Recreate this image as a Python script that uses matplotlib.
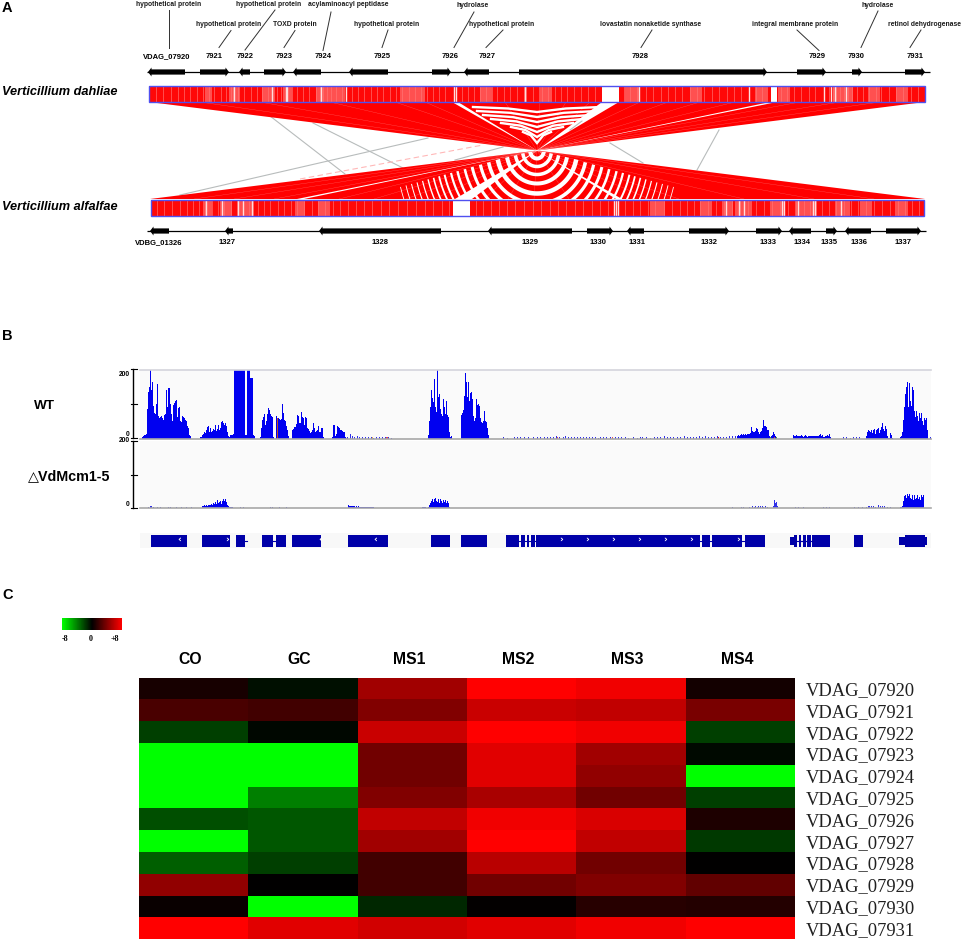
import numpy as np
import matplotlib
matplotlib.use("Agg")
import matplotlib.pyplot as plt
from matplotlib.colors import LinearSegmentedColormap
from matplotlib.patches import Polygon, Rectangle

plt.rcParams['font.family'] = ['Liberation Sans', 'DejaVu Sans']

# ---- panel A: gene maps (positions read in figure pixels)
top_genes = ["VDAG_07920", "7921", "7922", "7923", "7924", "7925", "7926", "7927", "7928", "7929", "7930", "7931"]
top_start = [148, 200, 239, 264, 293, 349, 432, 464, 519, 797, 852, 905]
top_end = [185, 229, 250, 286, 321, 388, 451, 489, 767, 826, 862, 925]
top_dir = [-1, 1, -1, 1, -1, -1, 1, -1, 1, 1, 1, 1]
top_label_x = [167, 214.5, 245, 284, 323, 382, 450, 487.5, 640, 817, 856, 915]

bot_genes = ["VDBG_01326", "1327", "1328", "1329", "1330", "1331", "1332", "1333", "1334", "1335", "1336", "1337"]
bot_start = [150, 225, 319, 488, 587, 627, 689, 756, 789, 826, 845, 886]
bot_end = [169, 233, 441, 572, 613, 644, 729, 782, 811, 837, 871, 921]
bot_dir = [-1, -1, -1, -1, 1, -1, 1, 1, -1, 1, -1, 1]
bot_label_x = [159, 227, 380, 530, 598, 637.5, 709, 768, 802, 829.5, 859, 903]

annot_text = ["hypothetical protein", "hypothetical protein", "hypothetical protein", "TOXD protein",
              "acylaminoacyl peptidase", "hypothetical protein", "hydrolase", "hypothetical protein",
              "lovastatin nonaketide synthase", "integral membrane protein", "hydrolase", "retinol dehydrogenase"]
annot_x = [169, 229, 269, 295, 348, 387, 473, 502, 651, 795.5, 878, 924]
annot_y = [5, 25, 5, 24.5, 5, 24.5, 5.5, 24.5, 24.5, 24.5, 5.5, 24.5]
lead_x0 = [169, 231, 275, 295, 331, 388, 474, 503, 652, 797, 878, 921]
lead_y0 = [10, 30.5, 10, 30.5, 12, 30, 12, 30, 30, 30, 11, 30]
lead_x1 = [169, 219, 245, 284, 323, 382, 454, 486, 641, 819, 861, 910]
lead_y1 = [47.5, 47.5, 50, 47.5, 50.5, 47.5, 47.5, 47.5, 47.5, 50.5, 47.5, 47.5]

# alignment blocks top -> bottom
link_top_l = [149, 458, 619, 777]
link_top_r = [452, 602, 770, 925]
link_bot_l = [925, 616, 455, 297]
link_bot_r = [622, 472, 304, 150]

thin_top = [505, 540, 566, 590, 640, 668, 700, 735, 800, 840, 880, 200, 260, 330, 395, 425]
thin_bot = [569, 534, 508, 484, 434, 406, 374, 339, 274, 234, 194, 874, 814, 744, 679, 649]

top_stripes = [156, 163, 171, 178, 184, 190, 197, 203, 209, 214, 221, 226, 231, 233, 238, 244, 251, 257, 262, 268,
               272, 277, 281, 287, 292, 297, 303, 309, 316, 320, 323, 327, 331, 336, 342, 346, 352, 358, 364, 371,
               377, 383, 390, 396, 402, 409, 415, 421, 427, 433, 439, 445, 462, 468, 474, 480, 486, 492, 497, 504,
               510, 517, 524, 526, 533, 539, 542, 548, 555, 561, 567, 574, 581, 588, 595, 624, 630, 637, 639, 646,
               653, 661, 668, 675, 682, 690, 697, 704, 712, 719, 727, 734, 741, 749, 756, 762, 781, 787, 794, 801,
               809, 815, 824, 829, 833, 836, 840, 844, 848, 852, 857, 863, 869, 876, 881, 889, 896, 903, 911, 918]
top_white = [234, 272, 286, 287, 321, 346, 454, 456, 525, 639, 749, 824, 831, 835, 846]
top_soft_l = [205, 229, 262, 283, 316, 400, 480, 540, 625, 690, 755, 778, 833, 868, 896]
top_soft_r = [212, 240, 275, 292, 345, 425, 492, 552, 640, 702, 768, 790, 853, 880, 908]
bot_stripes = [157, 164, 172, 180, 187, 193, 199, 205, 212, 218, 224, 231, 237, 243, 249, 253, 258, 264, 270, 278,
               284, 291, 297, 304, 312, 318, 325, 333, 340, 348, 356, 364, 372, 381, 389, 398, 407, 416, 425, 433,
               442, 449, 476, 483, 491, 499, 507, 515, 524, 533, 541, 550, 558, 566, 575, 583, 592, 600, 608, 625,
               633, 640, 648, 655, 664, 672, 680, 687, 694, 700, 708, 716, 724, 732, 740, 748, 756, 764, 772, 780,
               788, 796, 804, 810, 816, 822, 829, 836, 844, 851, 858, 866, 874, 882, 890, 898, 905, 912, 919]
bot_white = [206, 222, 238, 243, 252, 614, 616, 618, 726, 739, 744, 782, 784, 798, 813, 815, 841]
bot_soft_l = [203, 220, 238, 295, 318, 650, 700, 722, 735, 770, 795, 835, 860, 895]
bot_soft_r = [212, 232, 253, 305, 330, 665, 712, 733, 752, 785, 815, 850, 872, 908]

grey_x0 = [270, 313, 180, 455, 610, 697, 520, 570]
grey_y0 = [116, 123, 195, 160, 143, 170, 115, 130]
grey_x1 = [345, 403, 428, 503, 643, 719, 570, 582]
grey_y1 = [174, 168, 138, 147, 163, 130, 105, 121]

ring_depth = [7, 15, 23, 32, 42, 52, 61, 70, 78, 86, 93, 100, 106, 112, 118, 124, 130, 136, 142, 148]
ring_width = [4, 3.5, 3.5, 4, 4.5, 3.6, 3.2, 3, 2.6, 2.4, 2.2, 2, 1.8, 1.6, 1.4, 1.2, 1.1, 1, 0.9, 0.8]
chev_tip = [112, 117, 122, 127, 132, 137, 143]
chev_half = [64, 60, 54, 46, 36, 26, 14]
chev_rise = [5, 6, 7, 8, 9, 10, 11]

# ---- panel B: read coverage, one value per pixel column
wt_start = [142, 200, 234, 247, 250, 260, 276, 292, 332, 428, 461, 737, 793, 866, 900]
wt_vals = [
    [5, 8, 10, 10, 12, 85, 135, 150, 200, 140, 165, 95, 75, 70, 100, 158, 65, 60, 62, 65, 58, 55, 68, 72, 140, 90, 145,
     145, 100, 70, 50, 98, 102, 110, 112, 62, 88, 92, 52, 48, 66, 62, 60, 55, 50, 36, 30, 10, 6],
    [3, 5, 10, 12, 18, 15, 25, 32, 35, 20, 30, 18, 22, 28, 25, 40, 22, 28, 38, 25, 30, 48, 52, 46, 40, 45, 35, 20, 8, 5, 10, 10, 10, 12],
    [200, 200, 200, 200, 200, 200, 200, 200, 200, 200, 200, 10, 10],
    [200, 200, 200],
    [175, 175, 175, 10, 6],
    [5, 30, 55, 62, 72, 38, 50, 70, 88, 82, 72, 65, 62, 5],
    [64, 60, 58, 56, 55, 56, 100, 75, 55, 52, 35, 25, 8],
    [25, 28, 32, 34, 42, 68, 66, 45, 44, 78, 62, 58, 38, 62, 60, 30, 28, 22, 16, 20, 26, 45, 30, 20, 22, 24, 36, 20, 18, 30, 30, 4],
    [5, 40, 40, 8, 12, 35, 32, 30, 26, 24, 22, 20, 20, 3],
    [10, 50, 90, 140, 118, 105, 172, 90, 78, 200, 120, 130, 85, 70, 65, 115, 90, 70, 110, 68, 62, 20, 5, 8],
    [68, 75, 82, 122, 190, 165, 120, 165, 110, 132, 135, 115, 65, 50, 60, 115, 98, 100, 95, 60, 48, 46, 52, 80, 50, 48, 30, 10],
    [8, 9, 8, 10, 12, 10, 12, 10, 12, 10, 14, 13, 14, 16, 33, 22, 18, 20, 22, 30, 28, 20, 14, 18, 22, 30, 54, 36, 35, 32, 26, 24, 8, 5, 6, 10, 20, 14, 8, 3],
    [10, 8, 8, 10, 6, 8, 6, 7, 10, 6, 5, 8, 9, 6, 4, 6, 6, 7, 8, 6, 7, 8, 8, 6, 8, 8, 10, 12, 8, 10, 5, 4, 6, 8, 10, 6, 12, 4],
    [8, 18, 25, 22, 20, 24, 16, 24, 28, 14, 24, 28, 30, 16, 26, 32, 45, 28, 22, 36, 28, 8, 2, 2, 16, 10, 2],
    [5, 8, 20, 55, 90, 130, 150, 165, 90, 160, 110, 95, 148, 140, 80, 62, 80, 65, 50, 75, 60, 75, 52, 40, 60, 55, 58, 25],
]
wt_blip_x = [347, 350, 352, 354, 357, 359, 362, 365, 368, 371, 373, 376, 379, 382, 385, 388, 391, 503, 507, 514, 517, 520,
             524, 528, 533, 537, 540, 544, 547, 550, 553, 556, 559, 563, 565, 568, 571, 574, 577, 580, 583, 586, 589, 592,
             595, 598, 600, 603, 606, 610, 615, 618, 621, 625, 628, 633, 637, 640, 642, 646, 650, 654, 657, 660, 664, 667,
             670, 673, 677, 680, 684, 687, 690, 693, 696, 699, 702, 705, 708, 711, 714, 717, 720, 723, 726, 729, 732, 735,
             843, 846, 850, 853, 856, 859, 930]
wt_blip_h = [5, 12, 8, 4, 7, 4, 3, 4, 3, 3, 2, 4, 3, 4, 3, 3, 2, 3, 2, 3, 4, 3, 3, 5, 4, 3, 5, 4, 3, 4, 5, 8, 5, 4, 6, 3, 4,
             5, 4, 5, 4, 3, 3, 5, 3, 2, 3, 5, 4, 3, 3, 3, 4, 3, 2, 3, 2, 4, 3, 3, 2, 4, 3, 5, 6, 4, 5, 3, 4, 5, 6, 5, 5, 3, 4,
             6, 5, 6, 4, 3, 5, 6, 5, 4, 5, 6, 7, 8, 3, 3, 2, 3, 3, 3, 3]

mut_start = [202, 348, 422, 900]
mut_vals = [
    [5, 6, 8, 6, 8, 7, 10, 8, 10, 12, 8, 15, 12, 18, 12, 25, 14, 18, 22, 12, 22, 28, 20, 28, 18, 8, 5, 4, 3, 2, 3],
    [8, 6, 6, 5, 6, 5, 5, 4, 5, 3, 5, 3, 4, 3, 4, 3, 3, 4, 3, 3, 3, 2, 3, 3, 2, 3],
    [2, 2, 3, 2, 0, 0, 4, 8, 14, 22, 26, 18, 26, 30, 20, 18, 28, 14, 26, 20, 15, 24, 18, 25, 15, 22, 14, 3],
    [2, 3, 5, 20, 35, 38, 30, 42, 35, 42, 30, 28, 38, 25, 38, 28, 30, 38, 28, 34, 25, 38, 32, 40],
]
mut_blip_x = [148, 150, 151, 153, 157, 160, 168, 170, 176, 181, 186, 191, 240, 243, 270, 272, 279, 286, 732, 741, 743, 749,
              752, 754, 755, 757, 758, 760, 762, 763, 765, 767, 773, 774, 775, 776, 777, 795, 798, 803, 823, 826, 829,
              854, 858, 862, 866, 868, 869, 871, 873, 875, 878, 880, 882, 884, 887, 890]
mut_blip_h = [3, 5, 6, 3, 3, 3, 4, 3, 3, 3, 3, 2, 3, 3, 2, 2, 3, 4, 3, 4, 2, 3, 5, 4, 6, 4, 5, 6, 5, 4, 5, 3, 5, 24, 14, 18, 6, 3, 3, 2,
              3, 3, 2, 2, 2, 2, 4, 5, 7, 6, 5, 4, 9, 6, 5, 6, 4, 2]
snp_x = [277, 346, 372, 386, 387, 557, 612, 718, 770, 774, 776]
snp_h = [60, 2, 4, 4, 3, 3, 3, 4, 3, 4, 4]
snp_c = ['#c05020', '#e05050', '#f0b040', '#e05050', '#e05050', '#e05050', '#e05050', '#e01010', '#40a040', '#e04040', '#40a040']

exon_l = [151, 202, 236, 242, 262, 276, 292, 348, 431, 461, 506, 521, 527, 531, 536, 702, 712, 745, 794, 799, 803, 807, 812, 854, 905]
exon_r = [187, 230, 244, 244.5, 273, 286, 321, 388, 450, 487, 519, 525, 529, 535, 700, 710, 742, 765, 797, 801, 806, 811, 830, 863, 925]
narrow_l = [790, 899, 925]
narrow_r = [794, 905, 927]
intron_l = [244, 273, 519, 700, 710, 742, 797, 801]
intron_r = [247, 276, 536, 702, 712, 745, 812, 812]
chev_x = [179, 227, 320, 375, 561, 587, 613, 639, 665, 691, 738]
chev_mark = ["‹", "›", "‹", "‹", "›", "›", "›", "›", "›", "›", "›"]

# ---- panel C: log2 expression
conditions = ["CO", "GC", "MS1", "MS2", "MS3", "MS4"]
genes = ["VDAG_07920", "VDAG_07921", "VDAG_07922", "VDAG_07923", "VDAG_07924", "VDAG_07925",
         "VDAG_07926", "VDAG_07927", "VDAG_07928", "VDAG_07929", "VDAG_07930", "VDAG_07931"]
co = [0.7, 2.3, -2.0, -8, -8, -8, -2.5, -8, -3.0, 4.5, 0.3, 8]
gc = [-0.5, 2.0, -0.2, -8, -8, -4.0, -2.7, -2.7, -2.0, 0, -8, 7.0]
ms1 = [5.0, 4.0, 6.3, 3.5, 3.5, 4.0, 6.0, 5.0, 2.0, 2.0, -1.2, 6.5]
ms2 = [8, 6.3, 8, 7.0, 7.0, 5.3, 7.5, 8, 5.8, 3.5, 0.1, 7.0]
ms3 = [7.5, 6.0, 7.5, 5.0, 4.5, 3.5, 6.8, 6.0, 3.5, 4.0, 1.2, 7.5]
ms4 = [0.6, 3.8, -2.0, -0.3, -8, -2.0, 0.9, -1.8, 0, 3.0, 1.1, 8]

W, H = 964, 944
fig = plt.figure(figsize=(W / 100, H / 100), dpi=100)
gmap = LinearSegmentedColormap.from_list("gkr", ["#00ff00", "#000000", "#ff0000"])
LINK_RED = "#ff0000"
BORDER = "#5050f0"
DARK_BLUE = "#0000a8"
COV_BLUE = "#0000f0"


def px_axes(x0, y0, x1, y1):
    a = fig.add_axes([x0 / W, 1 - y1 / H, (x1 - x0) / W, (y1 - y0) / H])
    return a


ax = px_axes(0, 0, W, H)
ax.set_xlim(0, W)
ax.set_ylim(H, 0)
ax.axis("off")


def draw_gene_row(y, line_l, line_r, starts, ends, dirs):
    ax.plot([line_l, line_r], [y, y], color="black", lw=0.9, solid_capstyle="butt", zorder=2)
    for s, e, d in zip(starts, ends, dirs):
        head = 3.5
        if d > 0:
            xs = [s, e - head, e - head, e, e - head, e - head, s]
        else:
            xs = [e, s + head, s + head, s, s + head, s + head, e]
        ys = [y - 2.6, y - 2.6, y - 4.5, y, y + 4.5, y + 2.6, y + 2.6]
        ax.add_patch(Polygon(np.column_stack([xs, ys]), closed=True, fc="black", ec="none", zorder=3))


draw_gene_row(72, 147, 930, top_start, top_end, top_dir)
draw_gene_row(231, 147, 926, bot_start, bot_end, bot_dir)

for t, x, y in zip(annot_text, annot_x, annot_y):
    ax.text(x, y, t, ha="center", va="center", fontsize=4.9, fontweight="bold", color="#1a1a1a")
for x0, y0, x1, y1 in zip(lead_x0, lead_y0, lead_x1, lead_y1):
    ax.plot([x0, x1], [y0, y1], color="#303030", lw=0.7)
for t, x in zip(top_genes, top_label_x):
    ax.text(x, 56.5, t, ha="center", va="center", fontsize=5.5, fontweight="bold")
for t, x in zip(bot_genes, bot_label_x):
    ax.text(x, 242.7, t, ha="center", va="center", fontsize=5.5, fontweight="bold")

ax.text(2, 92, "Verticillium dahliae", fontsize=9.2, fontweight="bold", fontstyle="italic", va="center")
ax.text(2, 207, "Verticillium alfalfae", fontsize=9.2, fontweight="bold", fontstyle="italic", va="center")

# grey and pink weak hits sit under the strong ones
for x0, y0, x1, y1 in zip(grey_x0, grey_y0, grey_x1, grey_y1):
    ax.plot([x0, x1], [y0, y1], color="#b8bcbc", lw=0.8, zorder=1)
ax.plot([300, 483], [179, 145], color="#ffb8b8", lw=0.8, ls=(0, (5, 3)), zorder=1)

for tl, tr, bl, br in zip(link_top_l, link_top_r, link_bot_l, link_bot_r):
    ax.add_patch(Polygon([[tl, 102], [tr, 102], [br, 199], [bl, 199]], closed=True, fc=LINK_RED, ec="none", zorder=2))
for t, b in zip(thin_top, thin_bot):
    ax.plot([t, b], [102, 199], color="white", lw=0.25, alpha=0.35, zorder=2.1)

# white interference rings below the crossing, chevrons above it
cx, cy = 537, 151.5
clip_low = Rectangle((140, 152), 800, 47, transform=ax.transData)
for d, w in zip(ring_depth, ring_width):
    th = np.radians(np.linspace(14, 166, 120))
    ln, = ax.plot(cx + 0.95 * d * np.cos(th), cy + d * np.sin(th), color="white", lw=w * 0.72, zorder=2.2)
    ln.set_clip_path(clip_low)
for tip, half, rise in zip(chev_tip, chev_half, chev_rise):
    ax.plot([cx - half, cx - half * 0.45, cx, cx + half * 0.45, cx + half],
            [tip - rise, tip - rise * 0.7, tip, tip - rise * 0.7, tip - rise],
            color="white", lw=1.7, zorder=2.2, solid_joinstyle="miter")


def draw_band(y0, y1, x0, x1, gaps, stripes, whites, soft_l, soft_r):
    ax.add_patch(Rectangle((x0, y0), x1 - x0, y1 - y0, fc="#ff0808", ec="none", zorder=3))
    for l, r in zip(soft_l, soft_r):
        ax.add_patch(Rectangle((l, y0), r - l, y1 - y0, fc="#ff5050", ec="none", zorder=3.05))
    ax.vlines(stripes, y0, y1, color="#ff7878", lw=0.55, alpha=0.8, zorder=3.1)
    ax.vlines(whites, y0, y1, color="#ffdede", lw=1.0, zorder=3.2)
    for g0, g1 in gaps:
        ax.add_patch(Rectangle((g0, y0), g1 - g0, y1 - y0, fc="white", ec="none", zorder=3.3))
    ax.add_patch(Rectangle((x0, y0), x1 - x0, y1 - y0, fc="none", ec=BORDER, lw=1.0, zorder=3.4))


draw_band(85.5, 102, 149, 925, [(602, 619), (771, 777)], top_stripes, top_white, top_soft_l, top_soft_r)
draw_band(199.5, 216, 150.5, 924, [(452.5, 470)], bot_stripes, bot_white, bot_soft_l, bot_soft_r)


# ---- panel B
def draw_track(y0, y1, starts, vals, blip_x, blip_h):
    a = px_axes(139.5, y0, 931, y1)
    a.set_facecolor("#fafafa")
    a.set_xlim(139.5, 931)
    a.set_ylim(0, 200)
    for s, v in zip(starts, vals):
        xs = s + np.arange(len(v))
        a.bar(xs, v, width=1.0, align="edge", color=COV_BLUE, lw=0)
    a.bar(blip_x, blip_h, width=1.0, align="edge", color="#3030e8", lw=0)
    a.set_xticks([])
    a.set_yticks([])
    for side in ["left", "right"]:
        a.spines[side].set_visible(False)
    a.spines["top"].set_color("#d4d4dc")
    a.spines["top"].set_linewidth(1.2)
    a.spines["bottom"].set_color("#a8a8a8")
    a.spines["bottom"].set_linewidth(1.2)
    return a


wt_ax = draw_track(369.5, 438.5, wt_start, wt_vals, wt_blip_x, wt_blip_h)
wt_ax.bar(snp_x, snp_h, width=1.0, align="edge", color=snp_c, lw=0)
mut_ax = draw_track(440.5, 508, mut_start, mut_vals, mut_blip_x, mut_blip_h)
mut_ax.spines["top"].set_visible(False)

for ya, yb, ym, lab_top, lab_bot in [(369, 438, 403.5, 374, 434), (441, 508, 475, 441, 505)]:
    ax.plot([133.3, 133.3], [ya, yb], color="black", lw=1.0)
    for yy in [ya, ym, yb]:
        ax.plot([130.5, 137], [yy, yy], color="black", lw=0.8)
    ax.text(130, lab_top, "200", ha="right", va="center", fontsize=4.8, fontweight="bold")
    ax.text(130, lab_bot, "0", ha="right", va="center", fontsize=4.8, fontweight="bold")

ax.text(34, 406, "WT", fontsize=9.7, fontweight="bold", va="center")
ax.text(28, 476, "△VdMcm1-5", fontsize=10.3, fontweight="bold", va="center")

ax.add_patch(Rectangle((139.5, 533), 791.5, 15, fc="#f8f8f8", ec="none", zorder=1))
for l, r in zip(exon_l, exon_r):
    ax.add_patch(Rectangle((l, 534.5), r - l, 12.5, fc=DARK_BLUE, ec="none", zorder=2))
for l, r in zip(narrow_l, narrow_r):
    ax.add_patch(Rectangle((l, 537), r - l, 7.5, fc=DARK_BLUE, ec="none", zorder=2))
for l, r in zip(intron_l, intron_r):
    ax.plot([l, r], [540.8, 540.8], color=DARK_BLUE, lw=0.8, zorder=2)
for x, m in zip(chev_x, chev_mark):
    ax.text(x, 540.3, m, color="white", fontsize=6.5, fontweight="bold", ha="center", va="center", zorder=3,
            family="DejaVu Sans")

# ---- panel C
cb = px_axes(62, 618, 122, 630)
cb.pcolormesh(np.linspace(-8, 8, 121).reshape(1, -1), cmap=gmap, vmin=-8, vmax=8)
cb.axis("off")
for t, x in zip(["-8", "0", "+8"], [65, 90.5, 115]):
    ax.text(x, 639, t, ha="center", va="center", fontsize=5.8, fontweight="bold", family="Liberation Serif")

hm = px_axes(139, 677.5, 795, 939.3)
values = np.array([co, gc, ms1, ms2, ms3, ms4]).T
hm.pcolormesh(values, cmap=gmap, vmin=-8, vmax=8)
hm.set_ylim(len(genes), 0)
hm.axis("off")

for i, c in enumerate(conditions):
    ax.text(139 + 109.3 * (i + 0.47), 659, c, ha="center", va="center", fontsize=11.3, fontweight="bold")
for i, g in enumerate(genes):
    ax.text(806, 690.5 + 21.82 * i, g, ha="left", va="center", fontsize=13.3, family="Liberation Serif", color="#202020")

for t, y in zip(["A", "B", "C"], [8, 336, 595]):
    ax.text(2, y, t, ha="left", va="center", fontsize=10.5, fontweight="bold")

ax.set_zorder(5)
ax.patch.set_visible(False)

plt.savefig("out.png", dpi=100)
